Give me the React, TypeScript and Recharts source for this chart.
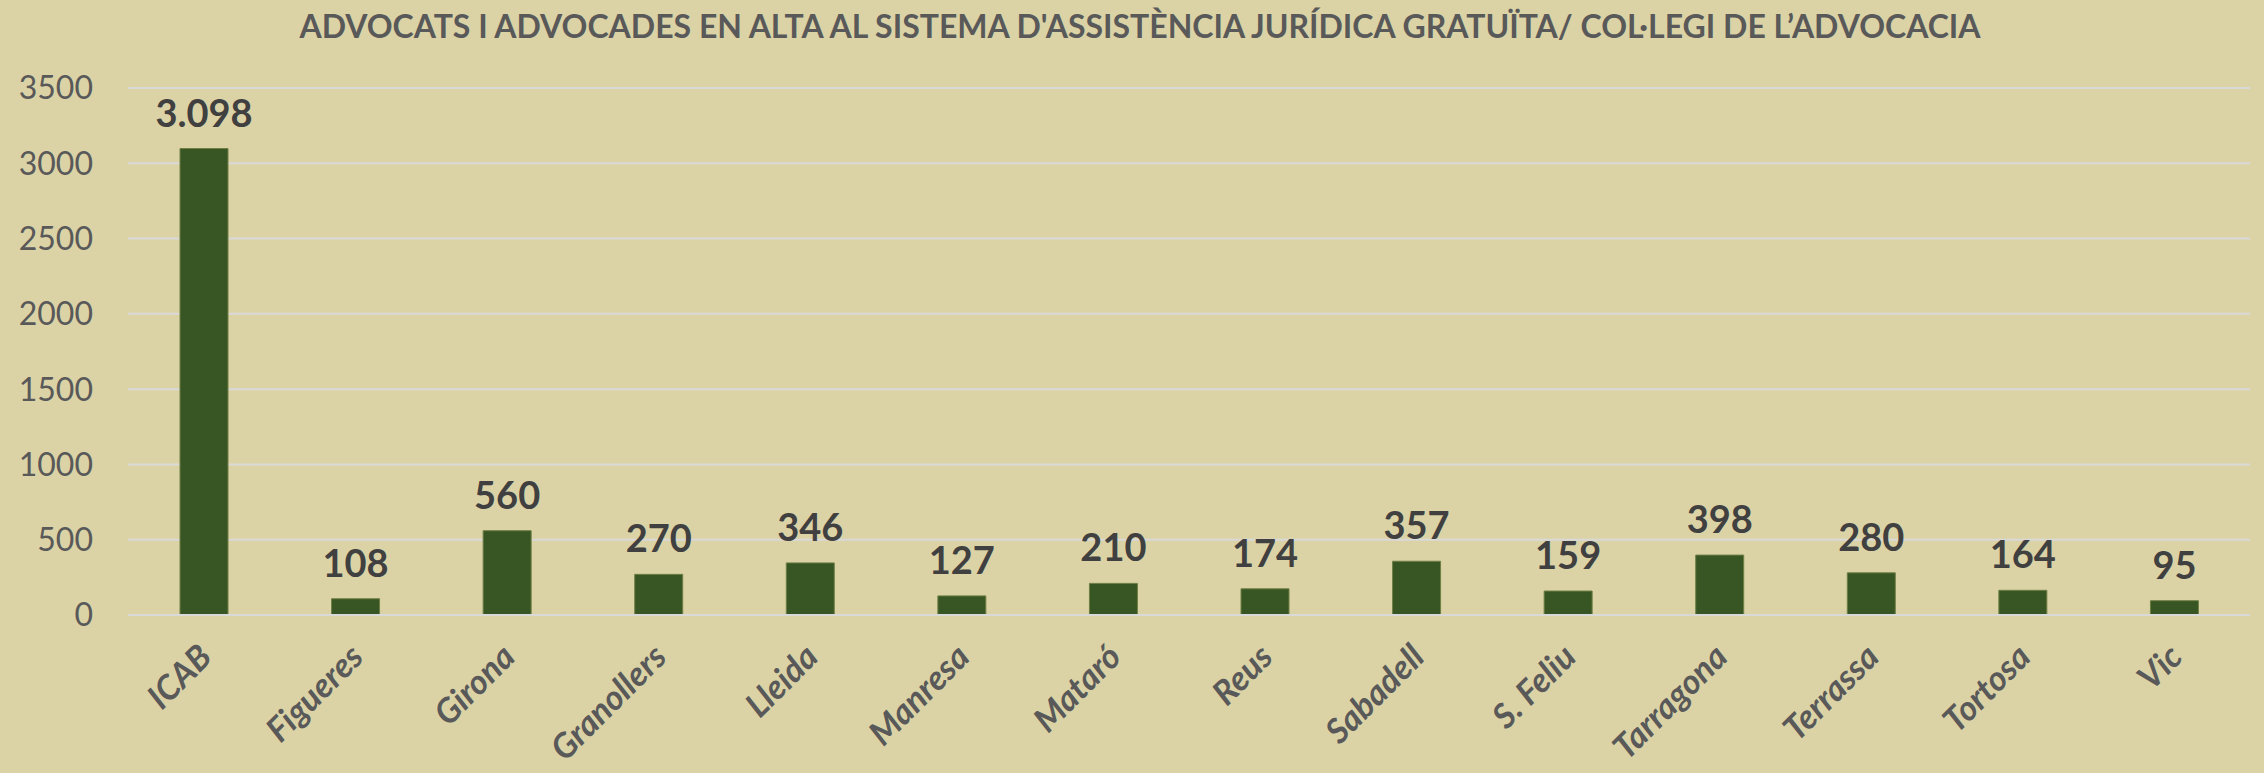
import { BarChart, Bar, XAxis, YAxis, CartesianGrid, LabelList } from "recharts";

const CATEGORIES = [
  "ICAB", "Figueres", "Girona", "Granollers", "Lleida", "Manresa", "Mataró",
  "Reus", "Sabadell", "S. Feliu", "Tarragona", "Terrassa", "Tortosa", "Vic",
];
const ADVOCATS = [3098, 108, 560, 270, 346, 127, 210, 174, 357, 159, 398, 280, 164, 95];
const Y_TICKS = [0, 500, 1000, 1500, 2000, 2500, 3000, 3500];

const TITLE = "ADVOCATS I ADVOCADES EN ALTA AL SISTEMA D'ASSISTÈNCIA JURÍDICA GRATUÏTA/ COL·LEGI DE L’ADVOCACIA";

const BG = "#dbd3a6";
const BAR = "#385623";
const FONT = "Lato, 'Open Sans', sans-serif";

// thousands with a dot, as in Catalan
function fmt(n: number): string {
  return String(n).replace(/\B(?=(\d{3})+(?!\d))/g, ".");
}

const data = CATEGORIES.map((c, i) => ({ name: c, value: ADVOCATS[i] }));

function XTick(props: any) {
  const { x, y, payload } = props;
  return (
    <g transform={`translate(${x + 10},${y + 36})`}>
      <text
        transform="rotate(-45)"
        textAnchor="end"
        fill="#595959"
        fontFamily={FONT}
        fontWeight={700}
        fontStyle="italic"
        fontSize={34}
      >
        {payload.value}
      </text>
    </g>
  );
}

export default function App() {
  return (
    <div style={{ position: "absolute", left: 0, top: 0, width: 2264, height: 773, background: BG, fontFamily: FONT }}>
      <div
        style={{
          position: "absolute", top: 6, left: 0, width: 2264, textAlign: "center",
          fontSize: 32, fontWeight: 700, color: "#595959", lineHeight: "40px", paddingLeft: 16,
          boxSizing: "border-box",
        }}
      >
        {TITLE}
      </div>
      <BarChart
        width={2264}
        height={773}
        data={data}
        margin={{ top: 88, right: 14, left: 0, bottom: 8 }}
        barSize={48}
      >
        <CartesianGrid vertical={false} stroke="#d9d9d9" strokeWidth={2} />
        <XAxis
          dataKey="name"
          interval={0}
          axisLine={{ stroke: "#d9d9d9", strokeWidth: 2 }}
          tickLine={false}
          height={150}
          tick={<XTick />}
        />
        <YAxis
          domain={[0, 3500]}
          ticks={Y_TICKS}
          width={128}
          axisLine={false}
          tickLine={false}
          tickMargin={29}
          tick={{ fill: "#595959", fontSize: 32, fontFamily: FONT }}
        />
        <Bar dataKey="value" fill={BAR} stroke="#6e7f45" strokeWidth={1} isAnimationActive={false}>
          <LabelList
            dataKey="value"
            position="top"
            offset={22}
            formatter={(v: any) => fmt(Number(v))}
            fill="#404040"
            fontFamily={FONT}
            fontWeight={700}
            fontSize={38}
          />
        </Bar>
      </BarChart>
    </div>
  );
}
